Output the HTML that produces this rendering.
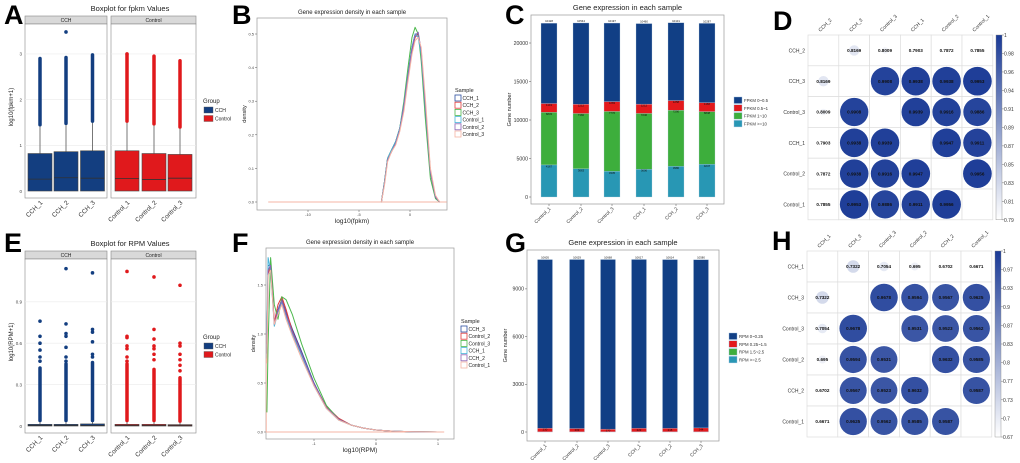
<!DOCTYPE html>
<html><head><meta charset="utf-8"><style>
html,body{margin:0;padding:0;background:#fff;width:1020px;height:463px;overflow:hidden}
svg{display:block;font-family:"Liberation Sans",Arial,sans-serif}
</style></head><body>
<svg id="fig" width="1020" height="463" viewBox="0 0 1020 463" xmlns="http://www.w3.org/2000/svg"></svg>
<script>
// ---------- data ----------
const boxSamples = ["CCH_1","CCH_2","CCH_3","Control_1","Control_2","Control_3"];
const fpkmQ3 = [0.82,0.86,0.88,0.88,0.82,0.80];
const fpkmMedian = [0.26,0.29,0.28,0.27,0.25,0.28];
const fpkmWhisker = [1.45,1.48,1.53,1.53,1.47,1.40];
const fpkmDenseTop = [2.9,2.92,2.98,2.98,2.95,2.85];
const fpkmExtra = [[],[3.48],[],[3.0],[],[]];
const fpkmTicks = [0,1,2,3];
const rpmQ3 = [0.012,0.012,0.015,0.012,0.012,0.01];
const rpmMedian = [0.003,0.003,0.003,0.003,0.003,0.003];
const rpmWhisker = [0.04,0.04,0.04,0.04,0.04,0.035];
const rpmDenseTop = [0.42,0.45,0.46,0.45,0.41,0.35];
const rpmExtra = [[0.47,0.5,0.55,0.6,0.65,0.76],[0.47,0.5,0.57,0.65,0.67,0.74,1.14],[0.5,0.52,0.61,0.68,0.7,1.11],[0.47,0.5,0.56,0.58,0.64,0.65,1.12],[0.48,0.52,0.56,0.58,0.63,0.7,1.08],[0.4,0.44,0.48,0.52,0.58,0.6,1.02]];
const rpmTicks = [0,0.3,0.6,0.9];

const densBSamples = ["CCH_1","CCH_2","CCH_3","Control_1","Control_2","Control_3"];
const densBX = [-2.8,-2.5,-2.2,-1.8,-1.4,-1,-0.6,-0.2,0.2,0.5,0.8,1.1,1.5,2,2.5,2.9];
const densB_CCH_1 = [0,0.06,0.13,0.155,0.18,0.22,0.29,0.38,0.46,0.5,0.5,0.44,0.28,0.09,0.015,0];
const densB_CCH_2 = [0,0.06,0.13,0.15,0.18,0.22,0.28,0.37,0.45,0.49,0.5,0.45,0.29,0.09,0.015,0];
const densB_CCH_3 = [0,0.06,0.13,0.155,0.18,0.22,0.3,0.4,0.49,0.52,0.5,0.42,0.25,0.07,0.01,0];
const densB_Control_1 = [0,0.06,0.13,0.155,0.18,0.22,0.29,0.38,0.46,0.5,0.49,0.44,0.28,0.09,0.015,0];
const densB_Control_2 = [0,0.055,0.125,0.15,0.175,0.215,0.285,0.375,0.455,0.495,0.505,0.45,0.29,0.09,0.015,0];
const densB_Control_3 = [0,0.05,0.12,0.15,0.17,0.21,0.27,0.36,0.44,0.48,0.49,0.46,0.31,0.1,0.02,0];
const densBTicksY = [0,0.1,0.2,0.3,0.4,0.5];
const densBTicksX = [-10,-5,0];

const densFSamples = ["CCH_3","Control_2","Control_3","CCH_1","CCH_2","Control_1"];
const densFX = [-1.76,-1.74,-1.7,-1.64,-1.58,-1.52,-1.45,-1.35,-1.2,-1.0,-0.8,-0.6,-0.4,-0.2,0,0.3,0.6,1.0];
const densF_CCH_3 = [0.8,1.7,1.7,1.1,1.25,1.35,1.22,1.05,0.82,0.5,0.25,0.13,0.07,0.04,0.02,0.008,0.003,0];
const densF_Control_2 = [0.9,1.6,1.72,1.12,1.3,1.38,1.25,1.03,0.8,0.48,0.26,0.14,0.07,0.04,0.02,0.008,0.003,0];
const densF_Control_3 = [0.2,0.9,1.78,1.3,1.15,1.38,1.35,1.2,0.9,0.55,0.27,0.13,0.07,0.04,0.02,0.008,0.003,0];
const densF_CCH_1 = [1.0,1.78,1.65,1.08,1.22,1.32,1.18,1.0,0.78,0.47,0.24,0.12,0.07,0.04,0.02,0.008,0.003,0];
const densF_CCH_2 = [0.85,1.65,1.7,1.1,1.24,1.34,1.2,1.02,0.8,0.49,0.25,0.13,0.07,0.04,0.02,0.008,0.003,0];
const densF_Control_1 = [0.7,1.6,1.65,1.1,1.2,1.3,1.15,0.98,0.75,0.47,0.24,0.12,0.07,0.04,0.02,0.008,0.003,0];
const densFTicksY = [0,0.5,1.0,1.5];
const densFTicksX = [-1,0,1];

const barCSamples = ["Control_1","Control_2","Control_3","CCH_1","CCH_2","CCH_3"];
const fpkmGe10 = [4167,3663,3335,3606,3980,4247];
const fpkm1to10 = [6833,7182,7776,7246,7290,6848];
const fpkm05to1 = [1143,1212,1283,1212,1258,1166];
const fpkm0to05 = [10428,10544,10197,10460,10101,10287];
const barCTicks = [0,5000,10000,15000,20000];
const barCLegend = ["FPKM 0~0.5","FPKM 0.5~1","FPKM 1~10","FPKM >=10"];

const rpmGe25 = [3,3,3,3,3,3];
const rpm15to25 = [8,8,8,8,10,10];
const rpm025to15 = [230,209,170,222,218,244];
const rpm0to025 = [10605,10629,10668,10617,10614,10580];
const barGTicks = [0,3000,6000,9000];
const barGLegend = ["RPM 0~0.25","RPM 0.25~1.5","RPM 1.5~2.5","RPM >=2.5"];

const corrDLabels = ["CCH_2","CCH_3","Control_3","CCH_1","Control_2","Control_1"];
const corrD = [
 [1,0.8169,0.8009,0.7903,0.7872,0.7855],
 [0.8169,1,0.9908,0.9938,0.9938,0.9953],
 [0.8009,0.9908,1,0.9939,0.9916,0.9886],
 [0.7903,0.9938,0.9939,1,0.9947,0.9911],
 [0.7872,0.9938,0.9916,0.9947,1,0.9956],
 [0.7855,0.9953,0.9886,0.9911,0.9956,1]];
const corrDTicks = ["1","0.98","0.96","0.94","0.91","0.89","0.87","0.85","0.83","0.81","0.79"];
const corrHLabels = ["CCH_1","CCH_3","Control_3","Control_2","CCH_2","Control_1"];
const corrH = [
 [1,0.7322,0.7054,0.695,0.6702,0.6671],
 [0.7322,1,0.9678,0.9594,0.9567,0.9625],
 [0.7054,0.9678,1,0.9531,0.9523,0.9562],
 [0.695,0.9594,0.9531,1,0.9632,0.9585],
 [0.6702,0.9567,0.9523,0.9632,1,0.9587],
 [0.6671,0.9625,0.9562,0.9585,0.9587,1]];
const corrHTicks = ["1","0.97","0.93","0.9","0.87","0.83","0.8","0.77","0.73","0.7","0.67"];

// ---------- helpers ----------
const NS="http://www.w3.org/2000/svg";
const svg=document.getElementById('fig');
function mk(tag,attrs,parent){const e=document.createElementNS(NS,tag);for(const k in attrs)e.setAttribute(k,attrs[k]);(parent||svg).appendChild(e);return e;}
function txt(x,y,s,size,attrs){const a=Object.assign({x:x,y:y,'font-size':size,fill:'#222'},attrs||{});const t=mk('text',a);t.textContent=s;return t;}
const lineCols=["#2c4ea0","#e03a3a","#4cb84c","#4ab4d8","#8c62b4","#f5b4a4"];
const CCHC="#133e80", CTRC="#e0191c";

[["A",4,24],["B",232,24],["C",505,24],["D",773,30],["E",4,252],["F",232,252],["G",505,252],["H",772,250]].forEach(p=>{
 const t=txt(p[1],p[2],p[0],27,{'font-weight':'bold',fill:'#000'});
 
 
});

// ---------- boxplots ----------
function boxPanel(oy,title,ylab,yfun,ticks,q3,med,wh,dense,extra,zero,bottom,stripTop,legY){
 const t=txt(130,oy,title,7.5,{'text-anchor':'middle'});
 
 
 const panels=[[25,107,"CCH"],[111,196,"Control"]];
 panels.forEach(p=>{
  const s=mk('rect',{x:p[0],y:stripTop,width:p[1]-p[0],height:8,fill:'#d9d9d9',stroke:'#888','stroke-width':0.6});
  
  
  txt((p[0]+p[1])/2,stripTop+6,p[2],5,{'text-anchor':'middle'});
  const bg=mk('rect',{x:p[0],y:stripTop+8,width:p[1]-p[0],height:bottom-stripTop-8,fill:'#fff',stroke:'#888','stroke-width':0.6});
  
  
  ticks.forEach(v=>{mk('line',{x1:p[0],x2:p[1],y1:yfun(v),y2:yfun(v),stroke:'#ebebeb','stroke-width':0.6});});
 });
 ticks.forEach(v=>{const l=txt(22,yfun(v)+1.8,String(v),4.5,{'text-anchor':'end',fill:'#444'});
  
  });
 const yt=txt(0,0,ylab,6,{'text-anchor':'middle',transform:`translate(13,${(stripTop+bottom)/2}) rotate(-90)`});
 
 
 const cx=[40,66,92.5,127,154,180];
 boxSamples.forEach((s,i)=>{
  const c=i<3?CCHC:CTRC;
  const w=mk('line',{x1:cx[i],x2:cx[i],y1:yfun(q3[i]),y2:yfun(wh[i]),stroke:'#555','stroke-width':0.8});
  
  
  const d=mk('line',{x1:cx[i],x2:cx[i],y1:yfun(wh[i]),y2:yfun(dense[i]),stroke:c,'stroke-width':3.5,'stroke-linecap':'round'});
  
  
  extra[i].forEach(v=>{const o=mk('circle',{cx:cx[i],cy:yfun(v),r:1.8,fill:c});
   
   });
  const b=mk('rect',{x:cx[i]-12,y:yfun(q3[i]),width:24,height:Math.max(1.5,yfun(zero)-yfun(q3[i])),fill:c,stroke:'#444','stroke-width':0.6});
  
  
  const m=mk('line',{x1:cx[i]-12,x2:cx[i]+12,y1:yfun(med[i]),y2:yfun(med[i]),stroke:'#333','stroke-width':0.8});
  
  
  const xl=txt(0,0,s,6.3,{'text-anchor':'end',fill:'#333',transform:`translate(${cx[i]+3},${bottom+5}) rotate(-45)`});
  
  
 });
 txt(203,legY,"Group",6);
 [["CCH",CCHC],["Control",CTRC]].forEach((g,k)=>{
  const r=mk('rect',{x:204,y:legY+4+k*8.5,width:9,height:6,fill:g[1],stroke:'#555','stroke-width':0.4});
  
  
  txt(215,legY+9+k*8.5,g[0],5);
 });
}
boxPanel(11,"Boxplot for fpkm Values","log10(fpkm+1)",v=>191-v*45.7,fpkmTicks,fpkmQ3,fpkmMedian,fpkmWhisker,fpkmDenseTop,fpkmExtra,0,198,16,103);
boxPanel(246,"Boxplot for RPM Values","log10(RPM+1)",v=>426-v*138,rpmTicks,rpmQ3,rpmMedian,rpmWhisker,rpmDenseTop,rpmExtra,0,433,251,339);

// ---------- density ----------
function densPanel(box,title,xlab,xf,yf,xs,series,names,ticksX,ticksY,tickFmt,legX,legY,flat){
 const f=mk('rect',{x:box[0],y:box[1],width:box[2]-box[0],height:box[3]-box[1],fill:'#fff',stroke:'#999','stroke-width':0.7});
 
 
 const t=txt((box[0]+box[2])/2,box[1]-4,title,6,{'text-anchor':'middle'});
 
 
 ticksY.forEach(v=>{mk('line',{x1:box[0]-2,x2:box[0],y1:yf(v),y2:yf(v),stroke:'#555','stroke-width':0.5});
  txt(box[0]-3,yf(v)+1.5,tickFmt(v),4,{'text-anchor':'end',fill:'#444'});});
 ticksX.forEach(v=>{mk('line',{x1:xf(v),x2:xf(v),y1:box[3],y2:box[3]+2,stroke:'#555','stroke-width':0.5});
  txt(xf(v),box[3]+6,String(v),4,{'text-anchor':'middle',fill:'#444'});});
 const xt=txt((box[0]+box[2])/2,box[3]+13,xlab,6.5,{'text-anchor':'middle'});
 
 
 const yt=txt(0,0,"density",5.5,{'text-anchor':'middle',transform:`translate(${box[0]-11},${(box[1]+box[3])/2}) rotate(-90)`});
 
 
 const fl=mk('polyline',{points:flat.map(p=>xf(p[0])+','+yf(p[1])).join(' '),fill:'none',stroke:lineCols[5],'stroke-width':0.9});
 
 
 series.forEach((ys,k)=>{
  const p=mk('polyline',{points:xs.map((x,i)=>xf(x).toFixed(1)+','+yf(ys[i]).toFixed(1)).join(' '),fill:'none',stroke:lineCols[k],'stroke-width':1,'stroke-linejoin':'round'});
  
  
 });
 txt(legX,legY,"Sample",5.5);
 names.forEach((n,k)=>{
  const r=mk('rect',{x:legX,y:legY+3+k*7.2,width:6,height:6,fill:'#fff',stroke:lineCols[k],'stroke-width':0.8});
  
  
  txt(legX+7.5,legY+8+k*7.2,n,5);
 });
}
densPanel([257,18,447,210],"Gene expression density in each sample","log10(fpkm)",v=>410+v*10.2,v=>202-v*336,densBX,
 [densB_CCH_1,densB_CCH_2,densB_CCH_3,densB_Control_1,densB_Control_2,densB_Control_3],densBSamples,densBTicksX,densBTicksY,v=>v.toFixed(1),455,92,[[-13.9,0],[3.6,0]]);
densPanel([266,248,454,439],"Gene expression density in each sample","log10(RPM)",v=>376+v*62,v=>432-v*98,densFX,
 [densF_CCH_3,densF_Control_2,densF_Control_3,densF_CCH_1,densF_CCH_2,densF_Control_1],densFSamples,densFTicksX,densFTicksY,v=>v.toFixed(1),461,323,[[-1.77,0.75],[-1.77,0],[1.1,0]]);

// ---------- stacked bars ----------
const stackCols=["#2897b4","#3dae3c","#e3191c","#113f85"];
function barPanel(box,yf,cx,w,layers,ticks,legend,legX,legY){
 const f=mk('rect',{x:box[0],y:box[1],width:box[2]-box[0],height:box[3]-box[1],fill:'#fff',stroke:'#999','stroke-width':0.7});
 
 
 const t=txt((box[0]+box[2])/2,box[1]-5,"Gene expression in each sample",7.5,{'text-anchor':'middle'});
 
 
 ticks.forEach(v=>{mk('line',{x1:box[0]-2,x2:box[0],y1:yf(v),y2:yf(v),stroke:'#555','stroke-width':0.5});
  txt(box[0]-3,yf(v)+1.8,String(v),5.2,{'text-anchor':'end',fill:'#333'});});
 const yt=txt(0,0,"Gene number",5.5,{'text-anchor':'middle',transform:`translate(${box[0]-20},${(box[1]+box[3])/2}) rotate(-90)`});
 
 
 barCSamples.forEach((s,i)=>{
  let acc=0;
  layers.forEach((L,k)=>{
   const v=L[i];
   const r=mk('rect',{x:cx[i]-w/2,y:yf(acc+v),width:w,height:yf(acc)-yf(acc+v),fill:stackCols[k],stroke:'#bcd',"stroke-width":0.3});
   
   
   if(v>100) txt(cx[i],yf(acc+v)+(k==3?-1:2.5),String(v),2.8,{'text-anchor':'middle',fill:'#111'});
   acc+=v;
  });
  mk('line',{x1:cx[i],x2:cx[i],y1:box[3],y2:box[3]+2,stroke:'#555','stroke-width':0.5});
  const xl=txt(0,0,s,4.8,{'text-anchor':'end',fill:'#333',transform:`translate(${cx[i]+2},${box[3]+5}) rotate(-45)`});
  
  
 });
 legend.forEach((n,k)=>{
  const r=mk('rect',{x:legX,y:legY+k*7.8,width:8,height:6.5,fill:stackCols[3-k],stroke:'#9bd','stroke-width':0.4});
  
  
  txt(legX+10,legY+k*7.8+5,n,4.3,{fill:'#333'});
 });
}
barPanel([531,15,724,204],v=>197-v*0.0077,[549,581,612,644,676,707],16,[fpkmGe10,fpkm1to10,fpkm05to1,fpkm0to05],barCTicks,barCLegend,734,97);
barPanel([527,250,719,441],v=>432-v*0.0159,[545,577,608,639,670,701],15,[rpmGe25,rpm15to25,rpm025to15,rpm0to025],barGTicks,barGLegend,729,333);

// ---------- correlation ----------
function corrPanel(gx,gy,cw,ch,labels,M,min,ticks,cbx){
 const n=labels.length;
 const blue=[26,58,150];
 function col(v){const f=Math.max(0,Math.min(1,(v-min)/(1-min)));return `rgb(${Math.round(255+(blue[0]-255)*f)},${Math.round(255+(blue[1]-255)*f)},${Math.round(255+(blue[2]-255)*f)})`;}
 for(let r=0;r<n;r++)for(let c=0;c<n;c++){
  const x=gx+c*cw,y=gy+r*ch;
  const cell=mk('rect',{x:x,y:y,width:cw,height:ch,fill:'#fff',stroke:'#ddd','stroke-width':0.7});
  
  
  if(r===c) continue;
  const v=M[r][c];
  const f=Math.max(0,(v-min)/(1-min));
  const rad=14.5*Math.sqrt(f);
  if(rad>1.5){const ci=mk('circle',{cx:x+cw/2,cy:y+ch/2,r:rad,fill:col(v)});
   
   }
  txt(x+cw/2,y+ch/2+1.7,String(v),4.6,{'text-anchor':'middle','font-weight':'bold',fill:'#111'});
 }
 labels.forEach((l,i)=>{
  const rl=txt(gx-3,gy+i*ch+ch/2+2,l,5,{'text-anchor':'end',fill:'#333'});
  
  
  const cl=txt(0,0,l,5,{fill:'#333',transform:`translate(${gx+i*cw+cw/2-3},${gy-3}) rotate(-45)`});
  
  
 });
 const H=n*ch;
 const gid='g'+gx+'_'+gy;
 const defs=mk('defs',{});
 const lg=mk('linearGradient',{id:gid,x1:0,y1:0,x2:0,y2:1},defs);
 mk('stop',{offset:0,'stop-color':'rgb(26,58,150)'},lg);
 mk('stop',{offset:1,'stop-color':'#fff'},lg);
 const cb=mk('rect',{x:cbx,y:gy,width:6,height:H,fill:`url(#${gid})`,stroke:'#888','stroke-width':0.4});
 
 
 ticks.forEach((t,i)=>{const y=gy+i*H/(ticks.length-1);
  mk('line',{x1:cbx+6,x2:cbx+8,y1:y,y2:y,stroke:'#555','stroke-width':0.4});
  txt(cbx+8,y+2,t,5,{fill:'#333'});});
}
corrPanel(808,35,30.8,30.8,corrDLabels,corrD,0.79,corrDTicks,996);
corrPanel(807,251,30.8,31,corrHLabels,corrH,0.67,corrHTicks,995);
</script>
</body></html>
